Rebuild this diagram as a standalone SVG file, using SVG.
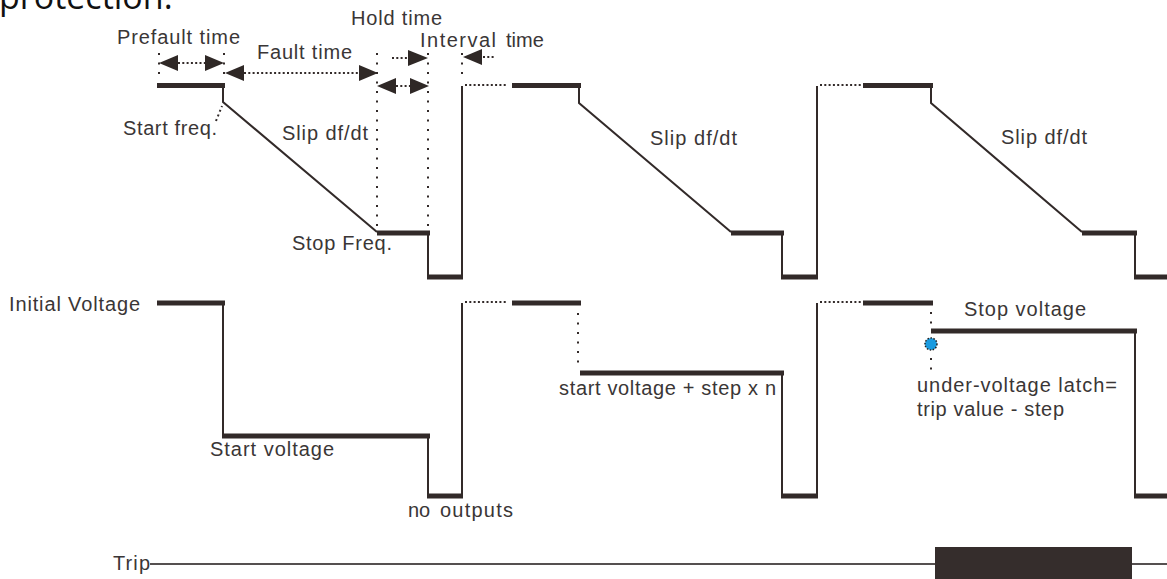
<svg xmlns="http://www.w3.org/2000/svg" width="1167" height="579" viewBox="0 0 1167 579">
<defs>
<style>
.t{font-family:"Liberation Sans",Arial,sans-serif;font-size:20px;fill:#3a3636}
.th{stroke:#322a29;stroke-width:5;fill:none}
.tn{stroke:#322a29;stroke-width:2;fill:none}
.dh{stroke:#322a29;stroke-width:2;stroke-dasharray:2 2.3;fill:none}
.dv{stroke:#322a29;stroke-width:2;stroke-dasharray:2 7.5;fill:none}
.ah{fill:#2f2826}
</style>
</defs>
<rect width="1167" height="579" fill="#ffffff"/>
<text x="-1" y="9" style="font-family:'Open Sans','DejaVu Sans',sans-serif;font-size:34px;fill:#111">protection.</text>

<g id="frequency-trace">
<line class="th" x1="157" y1="85.5" x2="225" y2="85.5"/>
<polyline class="tn" points="223,85 223,102 377,232"/>
<line class="th" x1="377" y1="233" x2="430" y2="233"/>
<line class="tn" x1="428" y1="233" x2="428" y2="277"/>
<line class="th" x1="427" y1="277" x2="463" y2="277"/>
<line class="tn" x1="462" y1="277" x2="462" y2="86"/>
<line class="dh" x1="465" y1="85" x2="507" y2="85"/>
<line class="th" x1="512" y1="85.5" x2="581" y2="85.5"/>
<polyline class="tn" points="579,85 579,103 731,232"/>
<line class="th" x1="731" y1="233" x2="784" y2="233"/>
<line class="tn" x1="782" y1="233" x2="782" y2="277"/>
<line class="th" x1="781" y1="277" x2="818" y2="277"/>
<line class="tn" x1="817" y1="277" x2="817" y2="86"/>
<line class="dh" x1="820" y1="85" x2="861" y2="85"/>
<line class="th" x1="863" y1="85.5" x2="933" y2="85.5"/>
<polyline class="tn" points="931,85 931,103 1082,232"/>
<line class="th" x1="1082" y1="233" x2="1137" y2="233"/>
<line class="tn" x1="1135" y1="233" x2="1135" y2="277"/>
<line class="th" x1="1134" y1="277" x2="1167" y2="277"/>
</g>

<g id="voltage-trace">
<line class="th" x1="157" y1="303" x2="225" y2="303"/>
<line class="tn" x1="223" y1="303" x2="223" y2="436"/>
<line class="th" x1="222" y1="436" x2="430" y2="436"/>
<line class="tn" x1="428" y1="436" x2="428" y2="496"/>
<line class="th" x1="427" y1="496" x2="463" y2="496"/>
<line class="tn" x1="462" y1="496" x2="462" y2="303"/>
<line class="dh" x1="465" y1="302" x2="507" y2="302"/>
<line class="th" x1="512" y1="303" x2="581" y2="303"/>
<line class="dv" x1="578" y1="313" x2="578" y2="363"/>
<line class="th" x1="580" y1="373" x2="784" y2="373"/>
<line class="tn" x1="782" y1="373" x2="782" y2="496"/>
<line class="th" x1="781" y1="496" x2="818" y2="496"/>
<line class="tn" x1="817" y1="496" x2="817" y2="303"/>
<line class="dh" x1="820" y1="302" x2="861" y2="302"/>
<line class="th" x1="863" y1="303" x2="933" y2="303"/>
<line class="dv" x1="931" y1="312" x2="931" y2="327"/>
<line class="th" x1="931" y1="331" x2="1137" y2="331"/>
<line class="tn" x1="1135" y1="331" x2="1135" y2="496"/>
<line class="th" x1="1134" y1="496" x2="1167" y2="496"/>
<line class="dv" x1="931" y1="358" x2="931" y2="370"/>
<circle id="latch-point" cx="931" cy="344" r="6" fill="#1a9be0" stroke="#222" stroke-width="1.5" stroke-dasharray="1.5 1.5"/>
</g>

<g id="trip-trace">
<line x1="150" y1="564" x2="1167" y2="564" stroke="#555050" stroke-width="2"/>
<rect x="935" y="547" width="197" height="32" fill="#352d2c"/>
</g>

<g id="time-markers">
<line class="dv" x1="159" y1="53" x2="159" y2="75"/>
<line class="dv" x1="224" y1="53" x2="224" y2="75"/>
<line class="dv" x1="377" y1="53" x2="377" y2="226"/>
<line class="dv" x1="428" y1="53" x2="428" y2="226"/>
<line class="dv" x1="462" y1="53" x2="462" y2="75"/>
<line stroke="#322a29" stroke-width="2" stroke-dasharray="2 3" x1="216" y1="121" x2="222" y2="106"/>
<line class="dh" x1="178" y1="63" x2="205" y2="63"/>
<polygon class="ah" points="159,63 178,55 178,71"/>
<polygon class="ah" points="224,63 205,55 205,71"/>
<line class="dh" x1="244" y1="73" x2="359" y2="73"/>
<polygon class="ah" points="225,73 244,65 244,81"/>
<polygon class="ah" points="378,73 359,65 359,81"/>
<line class="dh" x1="392" y1="58" x2="408" y2="58"/>
<polygon class="ah" points="428,58 408,50 408,66"/>
<line class="dh" x1="396" y1="86" x2="410" y2="86"/>
<polygon class="ah" points="377,86 396,78 396,94"/>
<polygon class="ah" points="429,86 410,78 410,94"/>
<polygon class="ah" points="463,57 482,49 482,65"/>
<line class="dh" x1="483" y1="57" x2="494" y2="57"/>
</g>

<g id="labels">
<text class="t" x="117" y="44" textLength="123" lengthAdjust="spacing">Prefault time</text>
<text class="t" x="257" y="59" textLength="95" lengthAdjust="spacing">Fault time</text>
<text class="t" x="351" y="25" textLength="91" lengthAdjust="spacing">Hold time</text>
<text class="t" x="420" y="47"><tspan textLength="76" lengthAdjust="spacing">Interval</tspan> <tspan x="506">time</tspan></text>
<text class="t" x="123" y="135" textLength="94" lengthAdjust="spacing">Start freq.</text>
<text class="t" x="282" y="140" textLength="86" lengthAdjust="spacing">Slip df/dt</text>
<text class="t" x="650" y="145" textLength="87" lengthAdjust="spacing">Slip df/dt</text>
<text class="t" x="1001" y="144" textLength="86" lengthAdjust="spacing">Slip df/dt</text>
<text class="t" x="292" y="250" textLength="100" lengthAdjust="spacing">Stop Freq.</text>
<text class="t" x="9" y="311" textLength="131" lengthAdjust="spacing">Initial Voltage</text>
<text class="t" x="210" y="456" textLength="124" lengthAdjust="spacing">Start voltage</text>
<text class="t" x="408" y="517">no <tspan x="440" textLength="73" lengthAdjust="spacing">outputs</tspan></text>
<text class="t" x="559" y="395" textLength="217" lengthAdjust="spacing">start voltage + step x n</text>
<text class="t" x="964" y="316" textLength="122" lengthAdjust="spacing">Stop voltage</text>
<text class="t" x="917" y="392" textLength="200" lengthAdjust="spacing">under-voltage latch=</text>
<text class="t" x="917" y="416" textLength="147" lengthAdjust="spacing">trip value - step</text>
<text class="t" x="113" y="570" textLength="37" lengthAdjust="spacing">Trip</text>
</g>
</svg>
